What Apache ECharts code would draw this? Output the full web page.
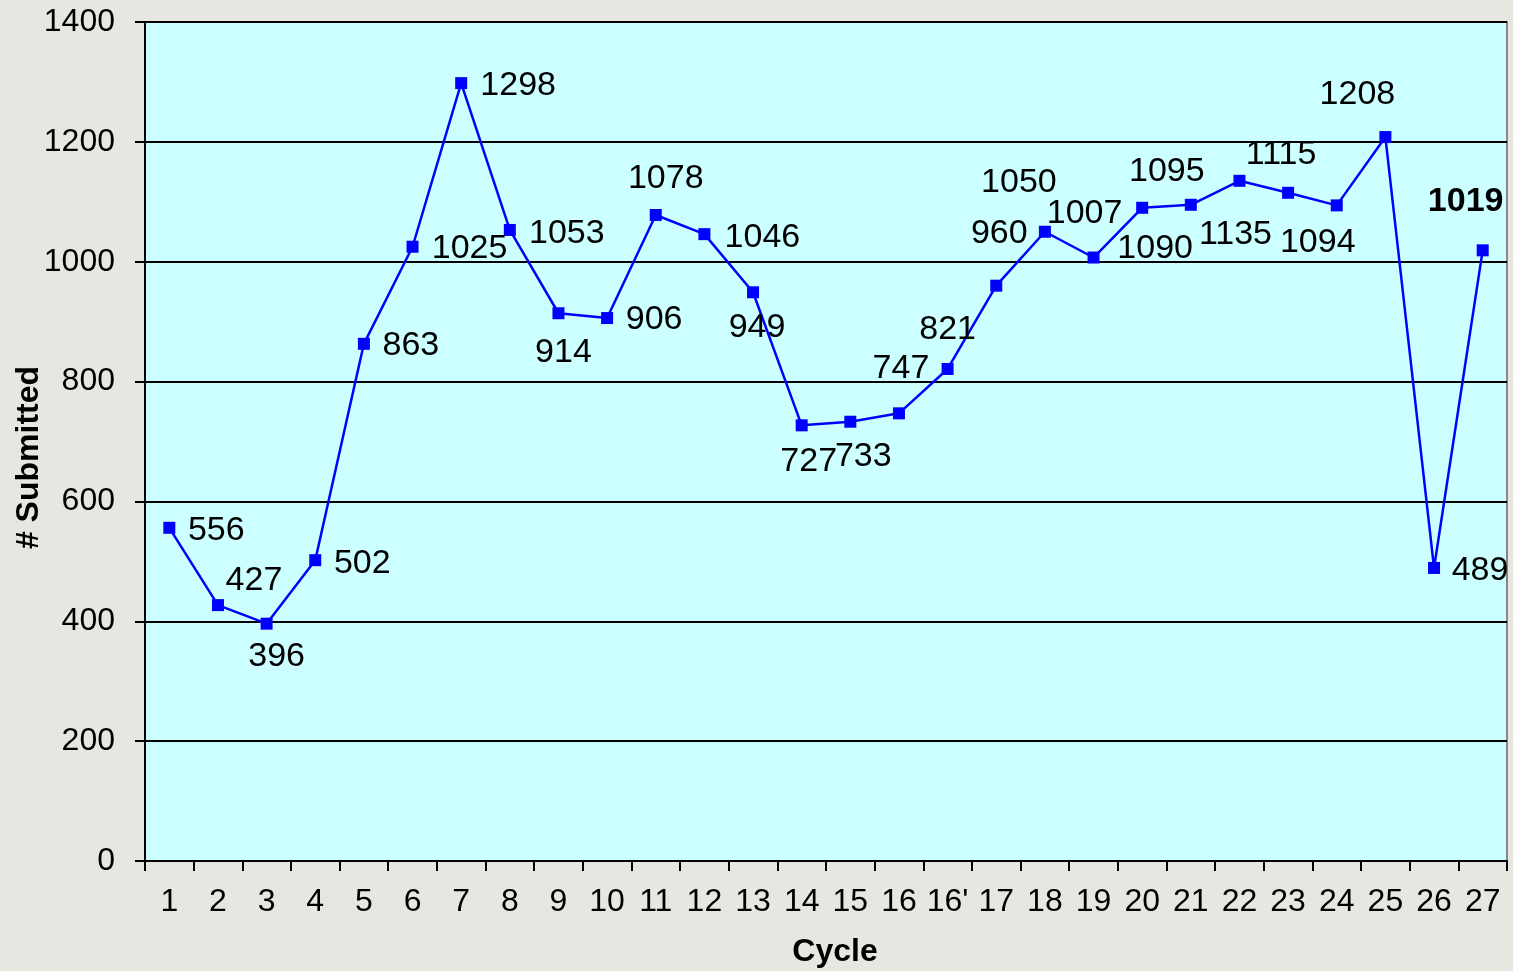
<!DOCTYPE html>
<html>
<head>
<meta charset="utf-8">
<script src="https://cdn.jsdelivr.net/npm/echarts@6/dist/echarts.min.js"></script>
<style>
  html, body { margin: 0; padding: 0; background: #e7e7e2; }
  #chart { width: 1513px; height: 971px; }
</style>
</head>
<body>
<div id="chart"></div>
<script>
// cycles on the x axis (16' is an extra cycle)
const cycles = ['1','2','3','4','5','6','7','8','9','10','11','12','13','14','15','16',"16'",
  '17','18','19','20','21','22','23','24','25','26','27'];
// number submitted per cycle
const submitted = [556,427,396,502,863,1025,1298,1053,914,906,1078,1046,949,727,733,747,821,
  960,1050,1007,1090,1095,1135,1115,1094,1208,489,1019];
const yTicks = { min: 0, max: 1400, step: 200 };

// where each value label sits relative to its point (px)
const labelOffsets = [
  [47,3],[36,-24],[10,33],[47,3],[47,2],[57,2],[57,2],[57,4],[5,39],[47,2],
  [10,-36],[58,3],[4,35],[7,36],[13,35],[2,-45],[0,-39],[3,-52],[-26,-49],[-9,-44],
  [13,41],[-24,-33],[-4,54],[-7,-38],[-19,37],[-28,-42],[46,3],[-17,-49]
];

const FONT = '"Liberation Sans", Arial, sans-serif';

const seriesData = submitted.map((v, i) => ({
  value: v,
  label: {
    offset: labelOffsets[i],
    fontWeight: i === submitted.length - 1 ? 'bold' : 'normal'
  }
}));

const chart = echarts.init(document.getElementById('chart'));
chart.setOption({
  animation: false,
  backgroundColor: '#e7e7e2',
  textStyle: { fontFamily: FONT },
  grid: {
    left: 145, right: 6, top: 22, bottom: 110,
    containLabel: false,
    outerBoundsMode: 'none',
    show: true,
    backgroundColor: '#ccffff',
    borderColor: '#888888',
    borderWidth: 2
  },
  xAxis: {
    type: 'category',
    data: cycles,
    boundaryGap: true,
    name: 'Cycle',
    nameLocation: 'middle',
    nameGap: 75,
    nameMoveOverlap: false,
    nameTextStyle: { fontFamily: FONT, fontSize: 32, fontWeight: 'bold', color: '#000', padding: [0, 0, 0, 18] },
    axisLine: { lineStyle: { color: '#000', width: 2 } },
    axisTick: { show: true, length: 10, interval: 0, lineStyle: { color: '#000', width: 2 } },
    axisLabel: { interval: 0, margin: 25, fontFamily: FONT, fontSize: 32, color: '#000' }
  },
  yAxis: {
    type: 'value',
    min: yTicks.min, max: yTicks.max, interval: yTicks.step,
    name: '# Submitted',
    nameLocation: 'middle',
    nameGap: 100,
    nameMoveOverlap: false,
    nameTextStyle: { fontFamily: FONT, fontSize: 32, fontWeight: 'bold', color: '#000', padding: [0, 32, 0, 0] },
    axisLine: { show: true, lineStyle: { color: '#000', width: 2 } },
    axisTick: { show: true, length: 10, lineStyle: { color: '#000', width: 2 } },
    axisLabel: { margin: 30, fontFamily: FONT, fontSize: 32, color: '#000', padding: [6, 0, 0, 0], formatter: v => String(v) },
    splitLine: { show: true, lineStyle: { color: '#000', width: 2 } }
  },
  series: [{
    name: '# Submitted',
    type: 'line',
    data: seriesData,
    symbol: 'rect',
    symbolSize: 12,
    itemStyle: { color: '#0000ff' },
    lineStyle: { color: '#0000ff', width: 2.5 },
    label: {
      show: true,
      position: 'inside',
      align: 'center',
      verticalAlign: 'middle',
      fontFamily: FONT,
      fontSize: 34,
      color: '#000'
    },
    z: 3
  }]
});
</script>
</body>
</html>
